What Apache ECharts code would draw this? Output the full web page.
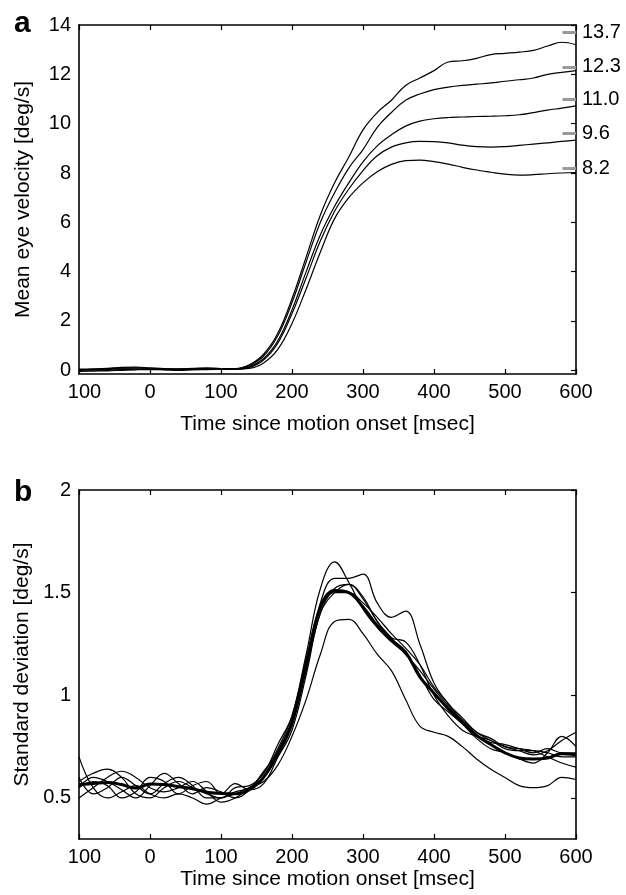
<!DOCTYPE html>
<html>
<head>
<meta charset="utf-8">
<script src="https://cdn.jsdelivr.net/npm/echarts@6/dist/echarts.min.js"></script>
<style>
  html, body { margin: 0; padding: 0; background: #fff; }
  #main { width: 626px; height: 895px; }
</style>
</head>
<body>
<div id="main"></div>
<script>
// time since motion onset (msec)
var tMs = [-100, -80, -60, -40, -20, 0, 20, 40, 60, 80, 100, 120, 140, 160, 180, 200, 220, 240,
           260, 280, 300, 320, 340, 360, 380, 400, 420, 440, 460, 480, 500, 520, 540, 560, 580, 600];

// panel a - mean eye velocity per target speed
var vel137 = [0.05, 0.06, 0.08, 0.12, 0.13, 0.10, 0.07, 0.06, 0.08, 0.10, 0.07, 0.07, 0.22, 0.65, 1.50, 2.90, 4.60, 6.30,
              7.60, 8.65, 9.75, 10.45, 10.95, 11.55, 11.85, 12.15, 12.50, 12.55, 12.65, 12.80, 12.85, 12.90, 12.97, 13.15, 13.30, 13.20];
var vel123 = [0.03, 0.04, 0.06, 0.09, 0.10, 0.08, 0.06, 0.05, 0.06, 0.07, 0.06, 0.06, 0.20, 0.58, 1.40, 2.75, 4.40, 6.00,
              7.20, 8.20, 8.95, 9.85, 10.45, 10.95, 11.20, 11.38, 11.48, 11.55, 11.60, 11.65, 11.72, 11.78, 11.85, 12.00, 12.08, 12.15];
var vel110 = [0.00, 0.02, 0.04, 0.06, 0.05, 0.04, 0.03, 0.04, 0.05, 0.04, 0.05, 0.05, 0.15, 0.48, 1.20, 2.45, 4.00, 5.50,
              6.65, 7.60, 8.45, 9.10, 9.55, 9.90, 10.10, 10.20, 10.25, 10.27, 10.29, 10.30, 10.32, 10.36, 10.45, 10.55, 10.63, 10.72];
var vel096 = [-0.04, -0.03, -0.02, 0.00, 0.02, 0.03, 0.02, 0.00, 0.02, 0.03, 0.04, 0.05, 0.12, 0.42, 1.10, 2.30, 3.75, 5.25,
              6.45, 7.35, 8.10, 8.70, 9.05, 9.22, 9.28, 9.27, 9.22, 9.13, 9.07, 9.05, 9.07, 9.12, 9.17, 9.22, 9.28, 9.33];
var vel082 = [0.02, 0.01, 0.00, 0.03, 0.05, 0.06, 0.05, 0.03, 0.04, 0.06, 0.05, 0.05, 0.08, 0.30, 0.85, 1.90, 3.30, 4.80,
              6.15, 7.00, 7.60, 8.05, 8.35, 8.50, 8.52, 8.46, 8.36, 8.23, 8.12, 8.03, 7.95, 7.91, 7.93, 7.97, 8.00, 8.02];
var rightMarks = [13.7, 12.3, 11.0, 9.6, 8.2];

// panel b - standard deviation, thin lines + thick mean
var sd1 = [0.60, 0.52, 0.55, 0.60, 0.56, 0.52, 0.57, 0.60, 0.56, 0.50, 0.50, 0.53, 0.55, 0.62, 0.74, 0.90, 1.20, 1.52,
           1.65, 1.55, 1.42, 1.33, 1.26, 1.20, 1.10, 0.98, 0.92, 0.86, 0.79, 0.74, 0.72, 0.69, 0.67, 0.72, 0.80, 0.75];
var sd2 = [0.55, 0.60, 0.58, 0.54, 0.50, 0.56, 0.62, 0.57, 0.52, 0.55, 0.53, 0.50, 0.54, 0.63, 0.72, 0.86, 1.15, 1.45,
           1.57, 1.57, 1.59, 1.45, 1.38, 1.41, 1.25, 1.06, 0.96, 0.89, 0.82, 0.78, 0.75, 0.73, 0.71, 0.73, 0.78, 0.82];
var sd3 = [0.50, 0.55, 0.60, 0.63, 0.60, 0.55, 0.53, 0.55, 0.58, 0.53, 0.48, 0.50, 0.55, 0.60, 0.70, 0.83, 1.10, 1.40,
           1.50, 1.54, 1.48, 1.36, 1.28, 1.20, 1.12, 1.03, 0.95, 0.88, 0.82, 0.79, 0.75, 0.74, 0.73, 0.70, 0.67, 0.65];
var sd4 = [0.70, 0.55, 0.50, 0.53, 0.56, 0.52, 0.50, 0.52, 0.50, 0.47, 0.50, 0.52, 0.55, 0.58, 0.66, 0.80, 0.98, 1.20,
           1.36, 1.37, 1.30, 1.20, 1.12, 0.98, 0.85, 0.82, 0.80, 0.75, 0.69, 0.64, 0.60, 0.56, 0.55, 0.56, 0.60, 0.59];
var sd5 = [0.58, 0.62, 0.64, 0.60, 0.52, 0.50, 0.55, 0.58, 0.55, 0.52, 0.50, 0.55, 0.56, 0.62, 0.76, 0.90, 1.18, 1.42,
           1.50, 1.50, 1.45, 1.38, 1.30, 1.23, 1.15, 1.04, 0.96, 0.87, 0.80, 0.77, 0.76, 0.74, 0.72, 0.74, 0.72, 0.72];
var sd6 = [0.55, 0.58, 0.56, 0.50, 0.53, 0.60, 0.58, 0.52, 0.56, 0.58, 0.52, 0.57, 0.54, 0.57, 0.70, 0.85, 1.12, 1.40,
           1.52, 1.54, 1.47, 1.36, 1.28, 1.26, 1.15, 1.00, 0.90, 0.83, 0.80, 0.78, 0.74, 0.73, 0.73, 0.72, 0.70, 0.70];
var sdMean = [0.565, 0.570, 0.575, 0.565, 0.548, 0.568, 0.565, 0.555, 0.545, 0.528, 0.522, 0.520, 0.540, 0.600, 0.720, 0.870, 1.150, 1.430,
              1.510, 1.500, 1.430, 1.340, 1.270, 1.210, 1.090, 1.010, 0.935, 0.870, 0.805, 0.760, 0.720, 0.695, 0.690, 0.695, 0.715, 0.710];

var yTicksA = [0, 2, 4, 6, 8, 10, 12, 14];
var yTicksB = [0.5, 1, 1.5, 2];

var FONT = 'Liberation Sans';

function pairs(arr) {
    return tMs.map(function (t, i) { return [t, arr[i]]; });
}

function thin(arr, xi, w) {
    return {
        type: 'line', xAxisIndex: xi, yAxisIndex: xi, data: pairs(arr),
        smooth: 0.4, symbol: 'none', silent: true,
        lineStyle: { color: '#000', width: w || 1.2 }
    };
}

var axLine = { onZero: false, lineStyle: { color: '#000', width: 1.6 } };

// the minus sign of the first label is missing in the original, but its room is kept
function xLabel(v) {
    return v < 0 ? '{m| }' + Math.abs(v) : String(v);
}

function bottomX(gi, gap) {
    return {
        gridIndex: gi, type: 'value', position: 'bottom', min: -100, max: 600, interval: 100,
        name: 'Time since motion onset [msec]', nameLocation: 'middle', nameGap: gap,
        nameTextStyle: { fontFamily: FONT, fontSize: 21, color: '#000' },
        axisLine: axLine,
        axisTick: { inside: true, length: 5, lineStyle: { color: '#000', width: 1.2 } },
        axisLabel: { fontFamily: FONT, fontSize: 20, color: '#000', margin: 8,
            formatter: xLabel, rich: { m: { width: 11, fontSize: 20 } } },
        splitLine: { show: false }
    };
}
function topX(gi) {
    return {
        gridIndex: gi, type: 'value', position: 'top', min: -100, max: 600, interval: 100,
        axisLine: axLine,
        axisTick: { inside: true, length: 5, lineStyle: { color: '#000', width: 1.2 } },
        axisLabel: { show: false }, splitLine: { show: false }
    };
}
function leftY(gi, mn, mx, ticks, name) {
    return {
        gridIndex: gi, type: 'value', position: 'left', min: mn, max: mx,
        name: name, nameLocation: 'middle', nameGap: 45,
        nameTextStyle: { fontFamily: FONT, fontSize: 21, color: '#000' },
        axisLine: axLine,
        axisTick: { show: false },
        axisLabel: { fontFamily: FONT, fontSize: 20, color: '#000', margin: 8,
            customValues: ticks, formatter: function (v) { return String(v); } },
        splitLine: { show: false }
    };
}
function rightY(gi, mn, mx, ticks) {
    return {
        gridIndex: gi, type: 'value', position: 'right', min: mn, max: mx,
        axisLine: axLine,
        axisTick: { inside: true, length: 5, customValues: ticks, lineStyle: { color: '#000', width: 1.2 } },
        axisLabel: { show: false }, splitLine: { show: false }
    };
}

var markSeries = thin(vel137, 0);
markSeries.markLine = {
    silent: true, symbol: 'none', animation: false,
    lineStyle: { color: '#999', width: 3, type: 'solid' },
    label: { show: true, position: 'end', distance: 6, formatter: '{b}',
             fontFamily: FONT, fontSize: 20, color: '#000' },
    data: rightMarks.map(function (v) {
        return [{ coord: [581, v], name: v.toFixed(1) }, { coord: [600, v] }];
    })
};

var chart = echarts.init(document.getElementById('main'), null, { renderer: 'canvas' });
chart.setOption({
    animation: false,
    backgroundColor: '#fff',
    grid: [
        { left: 79, top: 25, width: 497, height: 349 },
        { left: 79, top: 490, width: 497, height: 349 }
    ],
    graphic: [
        { type: 'text', left: 14, top: 9, style: { text: 'a', font: 'bold 30px "Liberation Sans"', fill: '#000' } },
        { type: 'text', left: 14, top: 478, style: { text: 'b', font: 'bold 30px "Liberation Sans"', fill: '#000' } }
    ],
    xAxis: [bottomX(0, 40), bottomX(1, 30), topX(0), topX(1)],
    yAxis: [
        leftY(0, -0.15, 14, yTicksA, 'Mean eye velocity [deg/s]'),
        leftY(1, 0.3, 2, yTicksB, 'Standard deviation [deg/s]'),
        rightY(0, -0.15, 14, yTicksA),
        rightY(1, 0.3, 2, yTicksB)
    ],
    series: [
        markSeries,
        thin(vel123, 0),
        thin(vel110, 0),
        thin(vel096, 0),
        thin(vel082, 0),
        thin(sd1, 1),
        thin(sd2, 1),
        thin(sd3, 1),
        thin(sd4, 1),
        thin(sd5, 1),
        thin(sd6, 1),
        thin(sdMean, 1, 3)
    ]
});
</script>
</body>
</html>
